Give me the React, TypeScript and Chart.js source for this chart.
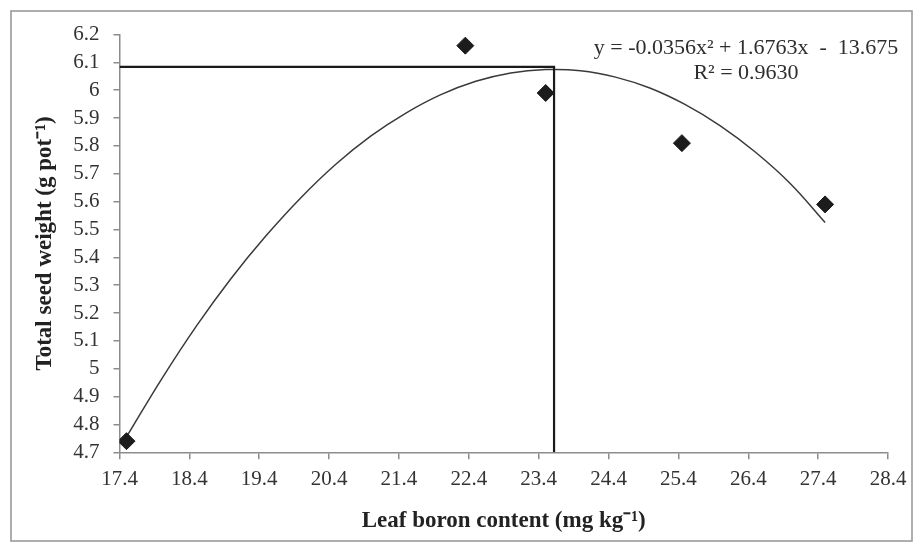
import React, { useEffect, useRef } from "react";
import { Chart, registerables } from "chart.js";

Chart.register(...registerables);

// ---- data ----
const xTickValues = [17.4, 18.4, 19.4, 20.4, 21.4, 22.4, 23.4, 24.4, 25.4, 26.4, 27.4, 28.4];
const yTickValues = [4.7, 4.8, 4.9, 5.0, 5.1, 5.2, 5.3, 5.4, 5.5, 5.6, 5.7, 5.8, 5.9, 6.0, 6.1, 6.2];

const boronContent = [17.5, 22.35, 23.5, 25.45, 27.5];
const seedWeight = [4.74, 6.16, 5.99, 5.81, 5.59];

// fitted curve as drawn in the figure
const curveX = [17.5, 18.0, 18.5, 19.0, 19.5, 20.0, 20.5, 21.0, 21.5, 22.0, 22.5, 23.0, 23.5, 24.0, 24.5, 25.0, 25.5, 26.0, 26.5, 27.0, 27.5];
const curveY = [4.755, 4.962, 5.153, 5.325, 5.478, 5.615, 5.735, 5.836, 5.918, 5.984, 6.032, 6.062, 6.074, 6.07, 6.047, 6.007, 5.948, 5.872, 5.778, 5.665, 5.525];

// optimum guide lines
const optimumX = 23.62;
const optimumY = 6.084;
const axisMinX = 17.4;
const axisMinY = 4.7;

const equationLine = "y = -0.0356x² + 1.6763x  -  13.675";
const r2Line = "R² = 0.9630";
const xTitle = "Leaf boron content (mg kg⁻¹)";
const yTitle = "Total seed weight (g pot⁻¹)";

const SERIF = '"Liberation Serif", "Times New Roman", serif';

export default function App() {
  const canvasRef = useRef<HTMLCanvasElement | null>(null);

  useEffect(() => {
    if (!canvasRef.current) return;

    const framePlugin = {
      id: "frame",
      beforeDraw(chart: any) {
        const ctx = chart.ctx;
        ctx.save();
        ctx.fillStyle = "#ffffff";
        ctx.fillRect(0, 0, chart.width, chart.height);
        ctx.strokeStyle = "#9a9a9a";
        ctx.lineWidth = 1.6;
        ctx.strokeRect(11, 11, 901, 530);
        ctx.restore();
      },
      afterDraw(chart: any) {
        const ctx = chart.ctx;
        const ca = chart.chartArea;
        ctx.save();
        ctx.fillStyle = "#2e2e2e";
        ctx.font = "22px " + SERIF;
        ctx.textAlign = "center";
        ctx.textBaseline = "middle";
        const cx = ca.right - 142;
        ctx.fillText(equationLine, cx, ca.top + 14);
        ctx.fillText(r2Line, cx, ca.top + 39);
        ctx.restore();
      },
    };

    const chart = new Chart(canvasRef.current, {
      type: "scatter",
      data: {
        datasets: [
          {
            label: "Observed",
            data: boronContent.map((x, i) => ({ x, y: seedWeight[i] })),
            pointStyle: "rectRot",
            pointRadius: 8.5,
            pointBackgroundColor: "#1c1c1c",
            pointBorderColor: "#1c1c1c",
            pointBorderWidth: 1,
            showLine: false,
          },
          {
            label: "Optimum",
            data: [
              { x: axisMinX, y: optimumY },
              { x: optimumX, y: optimumY },
              { x: optimumX, y: axisMinY },
            ],
            showLine: true,
            borderColor: "#1a1a1a",
            borderWidth: 2.2,
            pointRadius: 0,
            tension: 0,
          },
          {
            label: "Fit",
            data: curveX.map((x, i) => ({ x, y: curveY[i] })),
            showLine: true,
            borderColor: "#3a3a3a",
            borderWidth: 1.5,
            pointRadius: 0,
            tension: 0.4,
          },
        ],
      },
      options: {
        responsive: false,
        animation: false,
        devicePixelRatio: 1,
        layout: { padding: { left: 0, top: 34.5, right: 30, bottom: 0 } },
        plugins: {
          legend: { display: false },
          tooltip: { enabled: false },
        },
        scales: {
          x: {
            type: "linear",
            position: "bottom",
            min: 17.4,
            max: 28.4,
            afterBuildTicks: (scale: any) => {
              scale.ticks = xTickValues.map((v) => ({ value: v }));
            },
            afterFit: (scale: any) => {
              scale.height = 92.7;
            },
            ticks: {
              color: "#333333",
              font: { family: SERIF, size: 21 },
              padding: 8,
              maxRotation: 0,
              autoSkip: false,
              callback: (v: any) => Number(v).toFixed(1),
            },
            grid: {
              drawOnChartArea: false,
              drawTicks: true,
              tickLength: 7,
              color: "#8c8c8c",
              lineWidth: 1.5,
            },
            border: { display: true, color: "#8c8c8c", width: 1.5 },
            title: {
              display: true,
              text: xTitle,
              color: "#222222",
              font: { family: SERIF, size: 23, weight: "bold" },
              padding: { top: 0, bottom: 10 },
            },
          },
          y: {
            type: "linear",
            position: "left",
            min: 4.7,
            max: 6.2,
            afterBuildTicks: (scale: any) => {
              scale.ticks = yTickValues.map((v) => ({ value: v }));
            },
            afterFit: (scale: any) => {
              scale.width = 119.5;
            },
            ticks: {
              color: "#333333",
              font: { family: SERIF, size: 21 },
              padding: 14,
              autoSkip: false,
              callback: (v: any) => String(parseFloat(Number(v).toFixed(1))),
            },
            grid: {
              drawOnChartArea: false,
              drawTicks: true,
              tickLength: 6,
              color: "#8c8c8c",
              lineWidth: 1.5,
            },
            border: { display: true, color: "#8c8c8c", width: 1.5 },
            title: {
              display: true,
              text: yTitle,
              color: "#222222",
              font: { family: SERIF, size: 23, weight: "bold" },
              padding: { top: 31, bottom: 0 },
            },
          },
        },
      },
      plugins: [framePlugin],
    } as any);

    return () => chart.destroy();
  }, []);

  return (
    <div style={{ position: "fixed", left: 0, top: 0, width: 918, height: 545, background: "#fff" }}>
      <canvas ref={canvasRef} width={918} height={545} style={{ display: "block" }} />
    </div>
  );
}
